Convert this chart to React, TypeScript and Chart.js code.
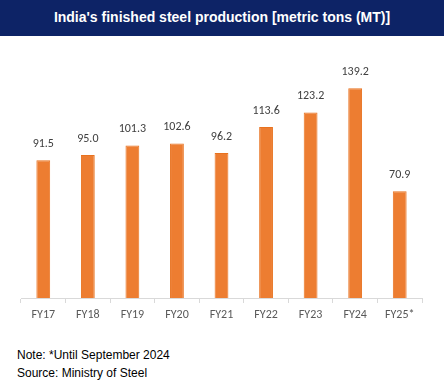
import React, { useEffect, useRef } from "react";
import { Chart, registerables } from "chart.js";

Chart.register(...registerables);

const categories = ["FY17", "FY18", "FY19", "FY20", "FY21", "FY22", "FY23", "FY24", "FY25*"];
const production = [91.5, 95.0, 101.3, 102.6, 96.2, 113.6, 123.2, 139.2, 70.9];
const titleText = "India's finished steel production [metric tons (MT)]";
const noteLines = ["Note: *Until September 2024", "Source: Ministry of Steel"];

const valueLabels = {
  id: "valueLabels",
  afterDatasetsDraw(chart: any) {
    const ctx = chart.ctx;
    const meta = chart.getDatasetMeta(0);
    ctx.save();
    ctx.font = "12px Carlito, Lato, sans-serif";
    ctx.fillStyle = "#404040";
    ctx.textAlign = "center";
    ctx.textBaseline = "bottom";
    meta.data.forEach((bar: any, i: number) => {
      const v = chart.data.datasets[0].data[i] as number;
      ctx.fillText(v.toFixed(1), bar.x, bar.y - 10);
    });
    ctx.restore();
  },
};

export default function App() {
  const ref = useRef<HTMLCanvasElement | null>(null);
  useEffect(() => {
    if (!ref.current) return;
    const chart = new Chart(ref.current, {
      type: "bar",
      data: {
        labels: categories,
        datasets: [
          {
            data: production,
            backgroundColor: "#ED7D31",
            borderColor: "#E8721F",
            borderWidth: 1,
            categoryPercentage: 1,
            barPercentage: 0.31,
          },
        ],
      },
      options: {
        animation: false,
        responsive: false,
        maintainAspectRatio: false,
        layout: { padding: { top: 22, left: 21, right: 22, bottom: 0 } },
        plugins: { legend: { display: false }, tooltip: { enabled: false } },
        scales: {
          x: {
            grid: {
              offset: true,
              drawOnChartArea: false,
              drawTicks: true,
              tickLength: 5,
              color: "#D9D9D9",
            },
            border: { color: "#D9D9D9" },
            ticks: {
              color: "#595959",
              font: { family: "Carlito, Lato, sans-serif", size: 12 },
              padding: 5,
              maxRotation: 0,
            },
            afterFit: (scale: any) => {
              scale.height = 37;
            },
          },
          y: { display: false, min: 0, max: 160 },
        },
      },
      plugins: [valueLabels],
    });
    return () => chart.destroy();
  }, []);

  return (
    <div style={{ position: "absolute", left: 0, top: 0, width: 444, height: 388, background: "#fff", fontFamily: "'Liberation Sans', Arial, sans-serif" }}>
      <div style={{ position: "absolute", left: 0, top: 0, width: 444, height: 36, background: "#0D2366", color: "#fff", fontWeight: 700, fontSize: 14, lineHeight: "35px", textAlign: "center" }}>
        {titleText}
      </div>
      <canvas ref={ref} width={444} height={300} style={{ position: "absolute", left: 0, top: 35, width: 444, height: 300 }} />
      <div style={{ position: "absolute", left: 17, top: 346, fontSize: 12, lineHeight: "18px", color: "#000" }}>
        {noteLines.map((l) => (
          <div key={l}>{l}</div>
        ))}
      </div>
    </div>
  );
}
